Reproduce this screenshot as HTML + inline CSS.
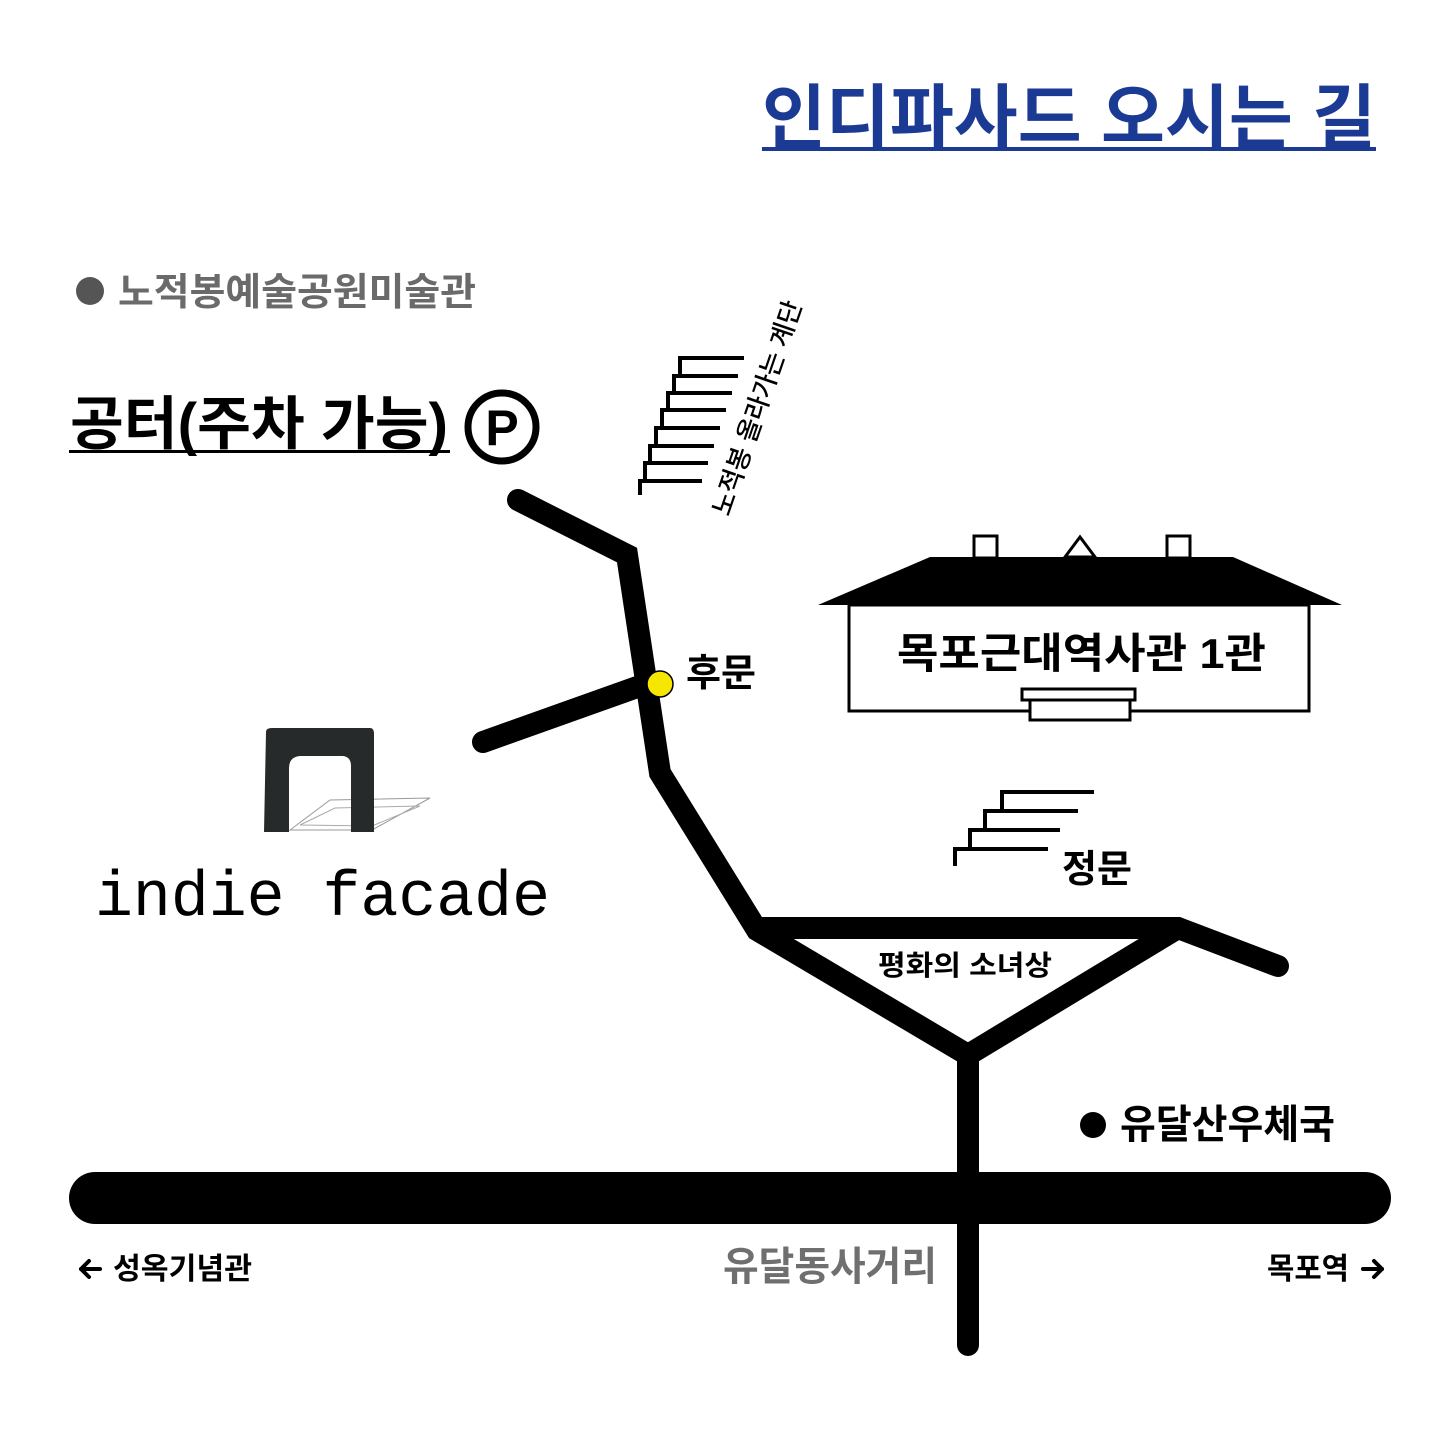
<!DOCTYPE html>
<html><head><meta charset="utf-8"><style>
html,body{margin:0;padding:0;background:#fff;}
svg{display:block;}
text{font-family:"Liberation Sans","Noto Sans CJK KR",sans-serif;font-weight:bold;}
</style></head><body>
<svg width="1440" height="1440" viewBox="0 0 1440 1440" xmlns="http://www.w3.org/2000/svg">
<rect width="1440" height="1440" fill="#fff"/>
<text x="762" y="142" font-size="70" fill="#1b3a94" textLength="614" lengthAdjust="spacingAndGlyphs">인디파사드 오시는 길</text>
<rect x="762" y="147" width="614" height="4" fill="#1b3a94"/>
<circle cx="90" cy="291" r="14" fill="#555"/>
<text x="118" y="305" font-size="38" fill="#6a6a6a" textLength="358" lengthAdjust="spacingAndGlyphs">노적봉예술공원미술관</text>
<text x="70" y="444" font-size="58" fill="#000" textLength="378" lengthAdjust="spacingAndGlyphs">공터(주차 가능)</text>
<rect x="69" y="450" width="381" height="3" fill="#000"/>
<circle cx="502" cy="427" r="34" fill="none" stroke="#000" stroke-width="7"/>
<text x="502" y="445" font-size="50" text-anchor="middle" fill="#000">P</text>
<g fill="none" stroke="#000" stroke-width="4">
<polyline points="640,495 640,481 645,481 645,463 650,463 650,446 656,446 656,428 662,428 662,410 668,410 668,393 674,393 674,376 680,376 680,358 744,358"/>
<line x1="674" y1="376" x2="738" y2="376"/>
<line x1="668" y1="393" x2="732" y2="393"/>
<line x1="662" y1="410" x2="726" y2="410"/>
<line x1="656" y1="428" x2="720" y2="428"/>
<line x1="650" y1="446" x2="714" y2="446"/>
<line x1="645" y1="463" x2="708" y2="463"/>
<line x1="640" y1="481" x2="702" y2="481"/>
</g>
<text x="0" y="0" font-size="26" fill="#000" style="font-weight:500" transform="translate(757,408) rotate(-71)" text-anchor="middle" dy="9" textLength="225" lengthAdjust="spacingAndGlyphs">노적봉 올라가는 계단</text>
<g fill="none" stroke="#000" stroke-width="22" stroke-linecap="round" stroke-linejoin="miter">
<polyline points="518,500 627,555 660,773 757,930 968,1055 968,1345"/>
<line x1="483" y1="742" x2="640" y2="686"/>
<polyline points="757,928 1178,928 1278,966"/>
<line x1="1178" y1="928" x2="968" y2="1055"/>
</g>
<line x1="95" y1="1198" x2="1365" y2="1198" stroke="#000" stroke-width="52" stroke-linecap="round"/>
<circle cx="660" cy="684" r="13" fill="#f6e600" stroke="#000" stroke-width="1.5"/>
<text x="686" y="686" font-size="38" fill="#000" textLength="70" lengthAdjust="spacingAndGlyphs">후문</text>
<polygon points="818,605 930,557 1233,557 1342,605" fill="#000"/>
<rect x="974" y="536" width="23" height="22" fill="#fff" stroke="#000" stroke-width="3"/>
<rect x="1167" y="536" width="23" height="22" fill="#fff" stroke="#000" stroke-width="3"/>
<polygon points="1065,557 1080,537 1095,557" fill="#fff" stroke="#000" stroke-width="3"/>
<rect x="849" y="605" width="460" height="106" fill="#fff" stroke="#000" stroke-width="3"/>
<rect x="1022" y="689" width="113" height="11" fill="#fff" stroke="#000" stroke-width="3"/>
<rect x="1030" y="700" width="100" height="20" fill="#fff" stroke="#000" stroke-width="3"/>
<text x="897" y="668" font-size="42" fill="#000" textLength="369" lengthAdjust="spacingAndGlyphs">목포근대역사관 1관</text>
<g fill="none" stroke="#000" stroke-width="4">
<polyline points="955,866 955,849 970,849 970,830 985,830 985,811 1002,811 1002,792 1094,792"/>
<line x1="985" y1="811" x2="1078" y2="811"/>
<line x1="970" y1="830" x2="1060" y2="830"/>
<line x1="955" y1="849" x2="1048" y2="849"/>
</g>
<text x="1062" y="882" font-size="38" fill="#000" textLength="70" lengthAdjust="spacingAndGlyphs">정문</text>
<text x="878" y="975" font-size="28" fill="#000" textLength="174" lengthAdjust="spacingAndGlyphs">평화의 소녀상</text>
<g>
<polygon points="290,830 330,800 430,798 372,830" fill="none" stroke="#999" stroke-width="1"/>
<polygon points="300,825 335,808 420,806 372,826" fill="none" stroke="#aaa" stroke-width="1"/>
<path d="M266,732 Q266,728 272,728 L370,728 Q374,728 374,734 L374,832 L351,832 L351,766 Q351,757 343,756 L300,756 Q289,757 289,768 L289,832 L264,832 Z" fill="#272a2a"/>
</g>
<text x="95" y="915" font-size="64" fill="#000" style="font-family:'Liberation Mono',monospace;font-weight:normal" textLength="455" lengthAdjust="spacingAndGlyphs">indie facade</text>
<circle cx="1093" cy="1125" r="13" fill="#000"/>
<text x="1120" y="1138" font-size="40" fill="#000" textLength="215" lengthAdjust="spacingAndGlyphs">유달산우체국</text>
<text x="723" y="1280" font-size="40" fill="#6f6f6f" textLength="214" lengthAdjust="spacingAndGlyphs">유달동사거리</text>
<g stroke="#000" stroke-width="4" fill="none" stroke-linecap="round" stroke-linejoin="round">
<line x1="81" y1="1269" x2="100" y2="1269"/><polyline points="89,1261 81,1269 89,1277"/>
<line x1="1363" y1="1269" x2="1382" y2="1269"/><polyline points="1374,1261 1382,1269 1374,1277"/>
</g>
<text x="113" y="1279" font-size="30" fill="#000" textLength="139" lengthAdjust="spacingAndGlyphs">성옥기념관</text>
<text x="1267" y="1279" font-size="30" fill="#000" textLength="82" lengthAdjust="spacingAndGlyphs">목포역</text>
</svg>
</body></html>
